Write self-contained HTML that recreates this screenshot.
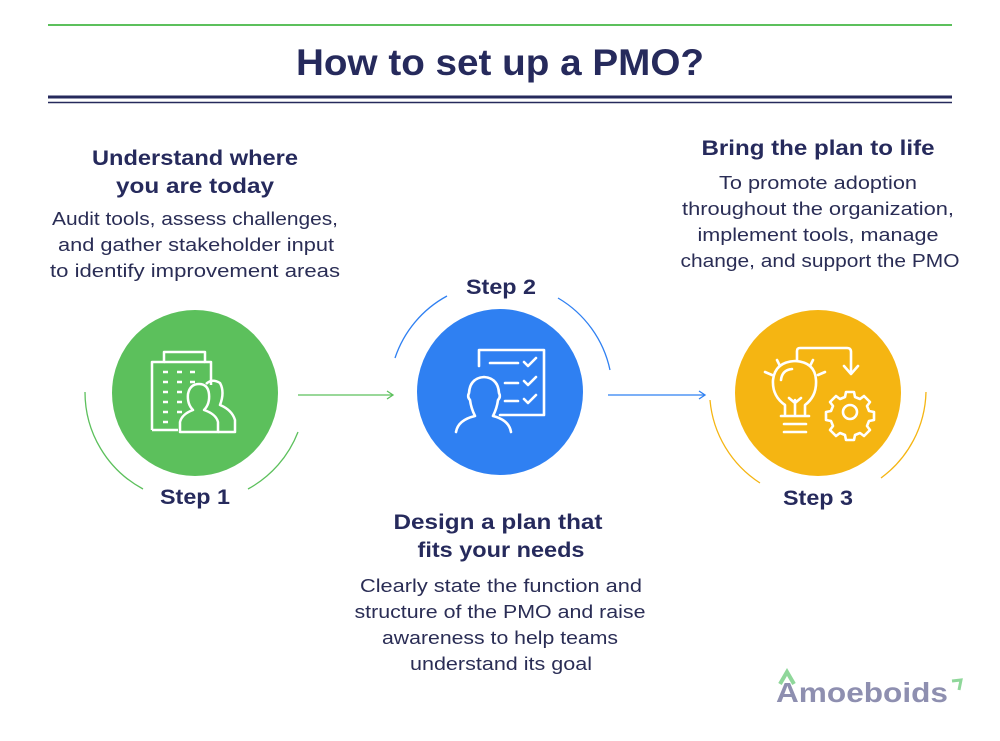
<!DOCTYPE html>
<html><head><meta charset="utf-8"><style>
html,body{margin:0;padding:0;background:#fff}
body{width:1000px;height:741px;overflow:hidden;position:relative;font-family:"Liberation Sans",sans-serif}
svg{position:absolute;left:0;top:0}
</style></head><body>
<svg width="1000" height="741" viewBox="0 0 1000 741" font-family="Liberation Sans, sans-serif">
<line x1="48" y1="25" x2="952" y2="25" stroke="#5cc05c" stroke-width="2"/>
<text x="500" y="75" text-anchor="middle" font-size="37" font-weight="bold" fill="#262a5c" textLength="408" lengthAdjust="spacingAndGlyphs">How to set up a PMO?</text>
<line x1="48" y1="97" x2="952" y2="97" stroke="#262a5c" stroke-width="3"/>
<line x1="48" y1="102.5" x2="952" y2="102.5" stroke="#262a5c" stroke-width="1.5"/>

<g fill="#262a5c" text-anchor="middle">
<text x="195" y="165" font-size="21" font-weight="bold" textLength="206" lengthAdjust="spacingAndGlyphs">Understand where</text>
<text x="195" y="193" font-size="21" font-weight="bold" textLength="158" lengthAdjust="spacingAndGlyphs">you are today</text>
<text x="195" y="225" font-size="18" fill="#2a2d55" textLength="286" lengthAdjust="spacingAndGlyphs">Audit tools, assess challenges,</text>
<text x="196" y="251" font-size="18" fill="#2a2d55" textLength="276" lengthAdjust="spacingAndGlyphs">and gather stakeholder input</text>
<text x="195" y="277" font-size="18" fill="#2a2d55" textLength="290" lengthAdjust="spacingAndGlyphs">to identify improvement areas</text>

<text x="818" y="155" font-size="21" font-weight="bold" textLength="233" lengthAdjust="spacingAndGlyphs">Bring the plan to life</text>
<text x="818" y="189" font-size="18" fill="#2a2d55" textLength="198" lengthAdjust="spacingAndGlyphs">To promote adoption</text>
<text x="818" y="215" font-size="18" fill="#2a2d55" textLength="272" lengthAdjust="spacingAndGlyphs">throughout the organization,</text>
<text x="818" y="241" font-size="18" fill="#2a2d55" textLength="241" lengthAdjust="spacingAndGlyphs">implement tools, manage</text>
<text x="820" y="267" font-size="18" fill="#2a2d55" textLength="279" lengthAdjust="spacingAndGlyphs">change, and support the PMO</text>

<text x="498" y="529" font-size="21" font-weight="bold" textLength="209" lengthAdjust="spacingAndGlyphs">Design a plan that</text>
<text x="501" y="557" font-size="21" font-weight="bold" textLength="167" lengthAdjust="spacingAndGlyphs">fits your needs</text>
<text x="501" y="592" font-size="18" fill="#2a2d55" textLength="282" lengthAdjust="spacingAndGlyphs">Clearly state the function and</text>
<text x="500" y="618" font-size="18" fill="#2a2d55" textLength="291" lengthAdjust="spacingAndGlyphs">structure of the PMO and raise</text>
<text x="500" y="644" font-size="18" fill="#2a2d55" textLength="236" lengthAdjust="spacingAndGlyphs">awareness to help teams</text>
<text x="501" y="670" font-size="18" fill="#2a2d55" textLength="182" lengthAdjust="spacingAndGlyphs">understand its goal</text>

<text x="195" y="504" font-size="21" font-weight="bold" textLength="70" lengthAdjust="spacingAndGlyphs">Step 1</text>
<text x="501" y="294" font-size="21" font-weight="bold" textLength="70" lengthAdjust="spacingAndGlyphs">Step 2</text>
<text x="818" y="505" font-size="21" font-weight="bold" textLength="70" lengthAdjust="spacingAndGlyphs">Step 3</text>
</g>

<circle cx="195" cy="393" r="83" fill="#5cc05c"/>
<circle cx="500" cy="392" r="83" fill="#2f80f2"/>
<circle cx="818" cy="393" r="83" fill="#f5b512"/>

<path d="M85 392 A110 110 0 0 0 143 489" fill="none" stroke="#5cc05c" stroke-width="1.3"/>
<path d="M248 489 A110 110 0 0 0 298 432" fill="none" stroke="#5cc05c" stroke-width="1.3"/>
<path d="M395 358 A110 110 0 0 1 447 296" fill="none" stroke="#2f80f2" stroke-width="1.3"/>
<path d="M558 298 A110 110 0 0 1 610 370" fill="none" stroke="#2f80f2" stroke-width="1.3"/>
<path d="M710 400 A110 110 0 0 0 760 483" fill="none" stroke="#f5b512" stroke-width="1.3"/>
<path d="M881 478 A110 110 0 0 0 926 392" fill="none" stroke="#f5b512" stroke-width="1.3"/>

<line x1="298" y1="395" x2="392" y2="395" stroke="#5cc05c" stroke-width="1.3"/>
<path d="M387 391 L393 395 L387 399" fill="none" stroke="#5cc05c" stroke-width="1.3"/>
<line x1="608" y1="395" x2="704" y2="395" stroke="#2f80f2" stroke-width="1.3"/>
<path d="M699 391 L705 395 L699 399" fill="none" stroke="#2f80f2" stroke-width="1.3"/>

<g fill="none" stroke="#fff" stroke-width="2.5" stroke-linejoin="round">
<path d="M152 430 V362 H164 V352 H205 V362 H211 V385"/>
<path d="M164 362 H205"/>
<path d="M152 430 H178"/>
<path d="M163 372h5M177 372h5M190 372h5M163 382h5M177 382h5M190 382h5M163 392h5M177 392h5M163 402h5M177 402h5M163 412h5M177 412h5M163 422h5"/>
<path d="M180 432 V422 Q182 414 193 410 Q187 404 188 394 Q190 384 199 384 Q208 384 209 394 Q210 404 204 410 Q216 414 218 422 V432 Z"/>
<path d="M206 384 Q212 378 220 383 Q225 392 220 405 Q232 410 235 420 V432 H218"/>
</g>

<g fill="none" stroke="#fff" stroke-width="2.6" stroke-linecap="round" stroke-linejoin="round">
<path d="M479 366 V350 H544 V415 H500"/>
<path d="M490 363 H518 M524 362 l4 4 l8 -8"/>
<path d="M505 383 H518 M524 381 l4 4 l8 -8"/>
<path d="M505 401 H518 M524 399 l4 4 l8 -8"/>
<path d="M456 432 Q458 420 475 416 Q471 408 470 400 Q467 397 469 393 Q470 378 484 377 Q498 378 499 393 Q501 397 498 400 Q497 408 493 416 Q509 420 511 432"/>
</g>

<g fill="none" stroke="#fff" stroke-width="2.6" stroke-linecap="round" stroke-linejoin="round">
<path d="M784 432 H806 M784 424 H806 M781 416 H809"/>
<path d="M785 414 V405 Q772 396 773 380 Q775 362 795 361 Q815 362 816 380 Q817 396 805 405 V414"/>
<path d="M781 380 Q782 370 792 369"/>
<path d="M795 414 V400 M789 398 L795 403 L801 398"/>
<path d="M765 372 l7 3 M777 360 l3 6 M813 360 l-3 6 M825 372 l-7 3"/>
<path d="M797 360 V351 Q797 348 800 348 H847 Q851 348 851 352 V372"/>
<path d="M844 366 L851 374 L858 366"/>
<circle cx="850" cy="412" r="7"/>
<path d="M846 392 h8 l1 5 l5 2 l4 -3 l6 6 l-3 4 l2 5 l5 1 v8 l-5 1 l-2 5 l3 4 l-6 6 l-4 -3 l-5 2 l-1 5 h-8 l-1 -5 l-5 -2 l-4 3 l-6 -6 l3 -4 l-2 -5 l-5 -1 v-8 l5 -1 l2 -5 l-3 -4 l6 -6 l4 3 l5 -2 z"/>
</g>

<text x="776" y="702" font-size="28" font-weight="bold" fill="#8e8fb0" textLength="172" lengthAdjust="spacingAndGlyphs">Amoeboids</text>
<path d="M780 684 L787 672 L794 684" fill="none" stroke="#8fd79a" stroke-width="4"/>
<path d="M952 681 L961 680 L959 690" fill="none" stroke="#8fd79a" stroke-width="3"/>
</svg>
</body></html>
